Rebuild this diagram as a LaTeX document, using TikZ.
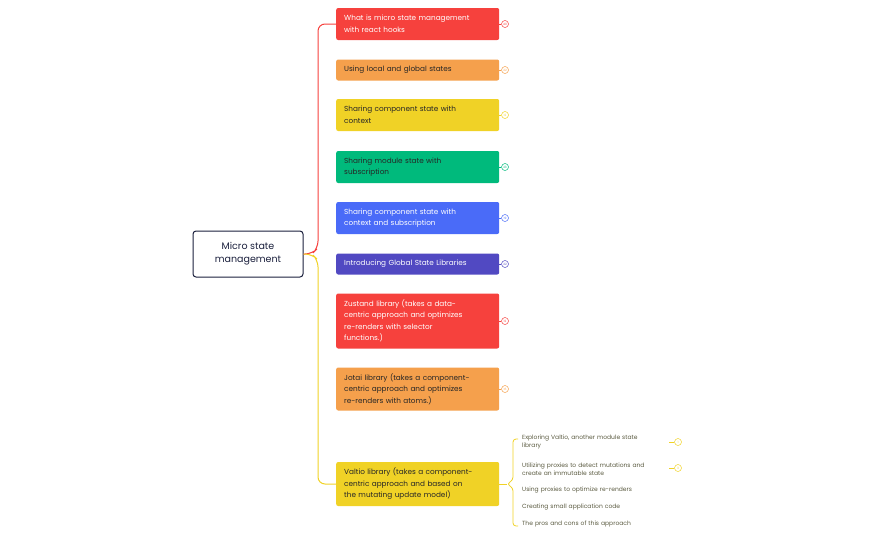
\documentclass[tikz,border=0pt]{standalone}
\usepackage{fontspec}
\setmainfont{Poppins}
\definecolor{cred}{HTML}{F6413D}
\definecolor{corg}{HTML}{F5A04C}
\definecolor{cyel}{HTML}{F0D226}
\definecolor{cgrn}{HTML}{00BA7C}
\definecolor{cblu}{HTML}{4A6BF8}
\definecolor{cind}{HTML}{5149C2}
\definecolor{cnav}{HTML}{1A1F3C}
\definecolor{subtx}{HTML}{5A5A40}
\begin{document}
\begin{tikzpicture}[x=1pt,y=-1pt,
  box/.style={rounded corners=2pt,minimum width=163pt,text width=147pt,align=left,inner sep=0pt,font=\fontsize{7.3}{11.5}\selectfont,anchor=west},
  sub/.style={anchor=west,align=left,text width=150pt,inner sep=0pt,font=\fontsize{6}{8.5}\selectfont,text=subtx},
  num/.style={circle,draw=#1,line width=0.5pt,inner sep=0pt,minimum size=7pt,font=\fontsize{3}{3}\selectfont,text=#1}]
\useasboundingbox (0,0) rectangle (874,541);
\node[draw=cnav,line width=1pt,rounded corners=3pt,minimum width=110pt,minimum height=46pt,align=center,font=\fontsize{9.5}{13}\selectfont,text=cnav] (root) at (248,254) {Micro state\\management};
\coordinate (rr) at (root.east);
\def\bx{336}
\node[box,fill=cred,text=white,minimum height=32pt] (b1) at (\bx,24) {What is micro state management\\with react hooks};
\node[box,fill=corg,text=black!85,minimum height=21pt] (b2) at (\bx,70) {Using local and global states};
\node[box,fill=cyel,text=black!85,minimum height=32pt] (b3) at (\bx,115) {Sharing component state with\\context};
\node[box,fill=cgrn,text=black!85,minimum height=32pt] (b4) at (\bx,167) {Sharing module state with\\subscription};
\node[box,fill=cblu,text=white,minimum height=32pt] (b5) at (\bx,218) {Sharing component state with\\context and subscription};
\node[box,fill=cind,text=white,minimum height=21pt] (b6) at (\bx,264) {Introducing Global State Libraries};
\node[box,fill=cred,text=white,minimum height=55pt] (b7) at (\bx,321) {Zustand library (takes a data-\\centric approach and optimizes\\re-renders with selector\\functions.)};
\node[box,fill=corg,text=black!85,minimum height=43pt] (b8) at (\bx,389) {Jotai library (takes a component-\\centric approach and optimizes\\re-renders with atoms.)};
\node[box,fill=cyel,text=black!85,minimum height=44pt] (b9) at (\bx,484) {Valtio library (takes a component-\\centric approach and based on\\the mutating update model)};
% connectors
\draw[cred,line width=1pt,rounded corners=7pt] (rr) -- (312,254) -- (318,248) -- (318,24) -- (b1.west);
\foreach \b in {b2,b3,b4,b5} {\draw[cred,line width=1pt] (318,0|-\b.west) ;}
\draw[cyel,line width=1pt,rounded corners=7pt] (rr) -- (312,254) -- (318,260) -- (318,484) -- (b9.west);
% number circles
\foreach \b/\c/\n in {b1/cred/40,b2/corg/22,b3/cyel/12,b4/cgrn/23,b5/cblu/19,b6/cind/22,b7/cred/12,b8/corg/16}{
  \node[num=\c] (n\b) at (505,0|-\b.east) {\n};
  \draw[\c,line width=0.5pt] (\b.east) -- (n\b);}
% sub items
\node[sub] (s1) at (522,442) {Exploring Valtio, another module state\\library};
\node[sub] (s2) at (522,469) {Utilizing proxies to detect mutations and\\create an immutable state};
\node[sub] (s3) at (522,490) {Using proxies to optimize re-renders};
\node[sub] (s4) at (522,507) {Creating small application code};
\node[sub] (s5) at (522,524) {The pros and cons of this approach};
\coordinate (bt) at (513,439);
\coordinate (bb) at (513,526);
\draw[cyel,line width=0.8pt] (b9.east) -- (507,484);
\draw[cyel,line width=0.8pt,rounded corners=3pt] (518,439) -- (513,439) -- (513,480) -- (507,484) -- (513,488) -- (513,526) -- (518,526);
\node[num=cyel] (c1) at (678,442) {1};
\node[num=cyel] (c2) at (678,468) {3};
\draw[cyel,line width=0.5pt] (c1.west) -- ++(-5,0);
\draw[cyel,line width=0.5pt] (c2.west) -- ++(-5,0);
\end{tikzpicture}
\end{document}
